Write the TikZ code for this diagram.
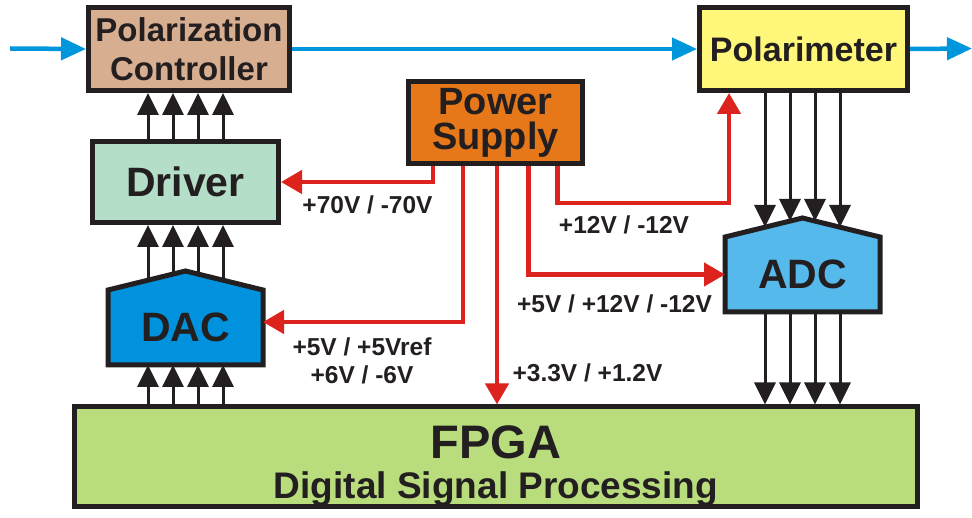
\documentclass[tikz,border=0pt]{standalone}
\usepackage{fontspec}
\setmainfont{Liberation Sans}
\usetikzlibrary{arrows.meta,backgrounds}

\definecolor{ink}{RGB}{35,31,32}
\definecolor{pcbrown}{RGB}{216,174,145}
\definecolor{pmyellow}{RGB}{255,247,122}
\definecolor{psorange}{RGB}{230,120,25}
\definecolor{drvgreen}{RGB}{180,222,200}
\definecolor{dacblue}{RGB}{0,146,221}
\definecolor{adcblue}{RGB}{85,185,235}
\definecolor{fpgagreen}{RGB}{185,220,125}
\definecolor{beamblue}{RGB}{0,150,220}
\definecolor{feedred}{RGB}{220,35,30}

\tikzset{
  block/.style={draw=ink, line width=5pt, inner sep=0pt, align=center, text=ink},
  chip/.style={inner sep=0pt, outer sep=2.5pt, minimum width=150pt, minimum height=70pt,
    text=ink, font=\fontsize{41}{45}\selectfont\bfseries},
  roof/.style={draw=ink, line width=5pt}
}

\begin{document}
\begin{tikzpicture}[x=1pt, y=1pt,
    beam/.style={-{Triangle[length=25pt,width=22pt]}, line width=4.5pt, draw=beamblue},
    feed/.style={-{Triangle[length=21pt,width=23pt]}, line width=4.5pt, draw=feedred},
    bus/.style={-{Triangle[length=22pt,width=21pt]}, line width=3pt, draw=ink},
    volt/.style={font=\fontsize{24.5}{28}\selectfont\bfseries, text=ink, align=center, inner sep=0pt}]
  \useasboundingbox (0,0) rectangle (972,517);

  % Optical path
  \node[block, fill=pcbrown, minimum width=201pt, minimum height=83pt,
    font=\fontsize{33}{37}\selectfont\bfseries] (pc) at (189,468) {Polarization\\[2pt]Controller};
  \node[block, fill=pmyellow, minimum width=208pt, minimum height=83pt,
    font=\fontsize{34}{38}\selectfont\bfseries] (pm) at (803.5,468) {Polarimeter};
  \coordinate (beamin) at (10,468.5);
  \coordinate (beamout) at (972,468.5);
  \draw[beam] (beamin) -- (pc.west);
  \draw[beam] (pc.east) -- (pm.west);
  \draw[beam] (pm.east) -- (beamout);

  % Electronics
  \node[block, fill=psorange, minimum width=174pt, minimum height=82pt,
    font=\fontsize{38}{31}\selectfont\bfseries] (ps) at (495.5,394.5) {Power\\[4pt]Supply};
  \node[block, fill=drvgreen, minimum width=186pt, minimum height=81pt,
    font=\fontsize{41}{45}\selectfont\bfseries] (drv) at (185.5,335) {Driver};
  \node[chip] (dac) at (185.5,189.5) {DAC};
  \node[chip] (adc) at (802.5,242.5) {ADC};
  \node[block, fill=fpgagreen, minimum width=843pt, minimum height=92pt] (fpga) at (496,60.5)
    {\fontsize{47}{40}\selectfont\bfseries\rule{0pt}{52pt}FPGA\\[11pt]\fontsize{37}{40}\selectfont\bfseries Digital Signal Processing};

  % Converter outlines
  \begin{scope}[on background layer]
    \filldraw[roof, fill=dacblue] (dac.south west) -- (dac.north west) -- ([yshift=19pt]dac.north)
      -- (dac.north east) -- (dac.south east) -- cycle;
    \filldraw[roof, fill=adcblue] (adc.south west) -- (adc.north west) -- ([yshift=19pt]adc.north)
      -- (adc.north east) -- (adc.south east) -- cycle;
  \end{scope}

  % Data buses
  \foreach \dx/\dy in {-37.5/10, -12.5/16, 12.5/16, 37.5/10}{
    \draw[bus] ([xshift=\dx pt]drv.north) -- ([xshift=\dx pt]drv.north |- pc.south);
    \draw[bus] ([xshift=\dx pt, yshift=\dy pt]dac.north) -- ([xshift=\dx pt]dac.north |- drv.south);
    \draw[bus] ([xshift=\dx pt]dac.south |- fpga.north) -- ([xshift=\dx pt]dac.south);
    \draw[bus] ([xshift=\dx pt]adc.north |- pm.south) -- ([xshift=\dx pt, yshift=\dy pt]adc.north);
    \draw[bus] ([xshift=\dx pt]adc.south) -- ([xshift=\dx pt]adc.south |- fpga.north);
  }

  % Supply lines
  \coordinate (bend) at (729,314);
  \draw[feed] ([xshift=-62.5pt]ps.south) |- (drv.east);
  \draw[feed] ([xshift=-32.5pt]ps.south) |- ([yshift=5.5pt]dac.east);
  \draw[feed] ([xshift=1.5pt]ps.south) -- ([xshift=1.5pt]ps.south |- fpga.north);
  \draw[feed] ([xshift=33pt]ps.south) |- (adc.west);
  \draw[feed] ([xshift=62pt]ps.south) |- (bend) -- (bend |- pm.south);

  % Voltages
  \node[volt] (v70) at (367.5,312) {+70V / -70V};
  \node[volt] (v5ref) at (362,156) {+5V / +5Vref\\+6V / -6V};
  \node[volt] (v33) at (587.5,144) {+3.3V / +1.2V};
  \node[volt] (v5adc) at (614.5,213) {+5V / +12V / -12V};
  \node[volt] (v12) at (624,292) {+12V / -12V};
\end{tikzpicture}
\end{document}
